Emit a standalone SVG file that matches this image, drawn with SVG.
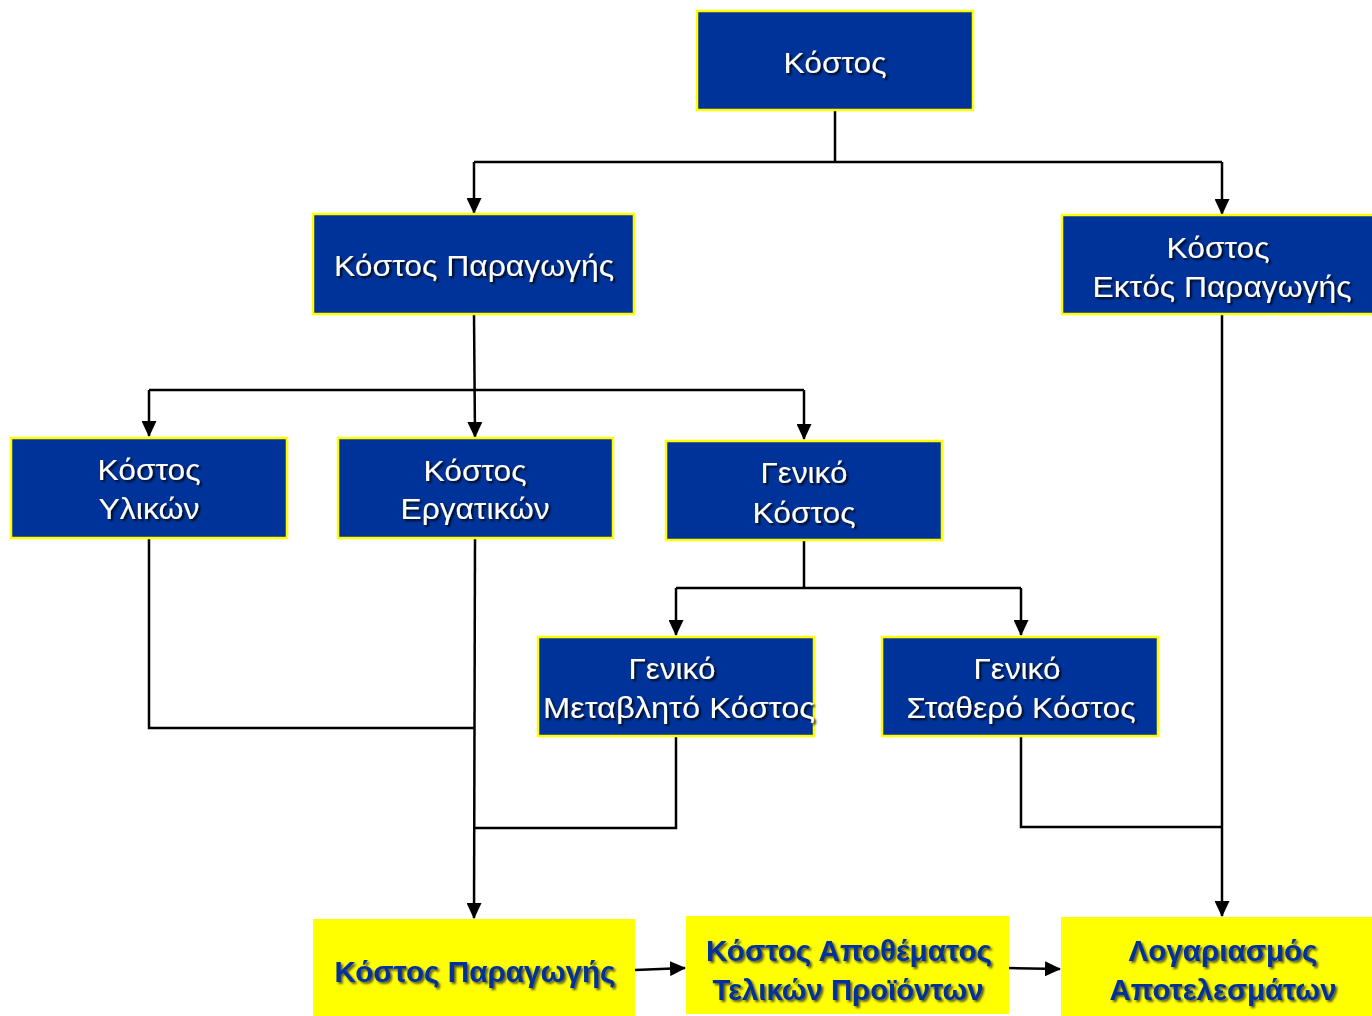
<svg xmlns="http://www.w3.org/2000/svg" width="1372" height="1016" viewBox="0 0 1372 1016">
<style>
.bn{fill:#003399;stroke:#FFFF00;stroke-width:2.5}
.yn{fill:#FFFF00;stroke:none}
.wt{font-family:"Liberation Sans",Arial,sans-serif;font-size:30px;fill:#FFFFFF;text-anchor:middle;filter:url(#sh)}
.yt{font-family:"Liberation Sans",Arial,sans-serif;font-size:30px;font-weight:bold;fill:#003399;text-anchor:middle;filter:url(#sh2)}
.c{fill:none;stroke:#000;stroke-width:2.5}
.a{fill:none;stroke:#000;stroke-width:2.5;marker-end:url(#ar)}
</style>
<defs>
<filter id="sh" x="-10%" y="-30%" width="120%" height="160%">
<feDropShadow dx="2" dy="2" stdDeviation="0.8" flood-color="#000" flood-opacity="0.85"/>
</filter>
<filter id="sh2" x="-10%" y="-30%" width="120%" height="160%">
<feDropShadow dx="2" dy="2" stdDeviation="0.8" flood-color="#333" flood-opacity="0.8"/>
</filter>
<marker id="ar" markerWidth="16" markerHeight="15" refX="15" refY="7.5" orient="auto" markerUnits="userSpaceOnUse">
<path d="M0,0 L16,7.5 L0,15 Z" fill="#000"/>
</marker>
</defs>
<rect width="1372" height="1016" fill="#FFFFFF"/>
<g id="connectors">
<path class="c" d="M835,110 V162 M474,162 H1222"/>
<path class="a" d="M474,162 V213"/>
<path class="a" d="M1222,162 V214"/>
<path class="a" d="M474,314 L475,437"/>
<path class="c" d="M149,390 H804"/>
<path class="a" d="M149,390 V436"/>
<path class="a" d="M804,390 V439"/>
<path class="c" d="M149,538 V728 H474"/>
<path class="a" d="M475,538 L474,918"/>
<path class="c" d="M804,540 V588 M676,588 H1021"/>
<path class="a" d="M676,588 V635"/>
<path class="a" d="M1021,588 V635"/>
<path class="c" d="M676,736 V828 H474"/>
<path class="c" d="M1021,736 V827 H1222"/>
<path class="a" d="M1222,314 V916"/>
<path class="a" d="M635,970 L685,968"/>
<path class="a" d="M1009,968 L1060,969"/>
</g>
<g id="n-kostos">
<rect class="bn" x="697" y="11" width="276" height="99"/>
<text class="wt" x="835" y="73" textLength="103" lengthAdjust="spacingAndGlyphs">Κόστος</text>
</g>
<g id="n-paragogis">
<rect class="bn" x="313" y="214" width="321" height="100"/>
<text class="wt" x="474" y="276" textLength="280" lengthAdjust="spacingAndGlyphs">Κόστος Παραγωγής</text>
</g>
<g id="n-ektos">
<rect class="bn" x="1062" y="215" width="320" height="99"/>
<text class="wt" x="1218" y="258" textLength="103" lengthAdjust="spacingAndGlyphs">Κόστος</text>
<text class="wt" x="1222" y="297" textLength="259" lengthAdjust="spacingAndGlyphs">Εκτός Παραγωγής</text>
</g>
<g id="n-ylikon">
<rect class="bn" x="11" y="438" width="276" height="100"/>
<text class="wt" x="149" y="480" textLength="103" lengthAdjust="spacingAndGlyphs">Κόστος</text>
<text class="wt" x="149" y="519" textLength="101" lengthAdjust="spacingAndGlyphs">Υλικών</text>
</g>
<g id="n-ergatikon">
<rect class="bn" x="338" y="438" width="275" height="100"/>
<text class="wt" x="475" y="481" textLength="103" lengthAdjust="spacingAndGlyphs">Κόστος</text>
<text class="wt" x="475" y="519" textLength="149" lengthAdjust="spacingAndGlyphs">Εργατικών</text>
</g>
<g id="n-geniko">
<rect class="bn" x="666" y="441" width="276" height="99"/>
<text class="wt" x="804" y="483" textLength="87" lengthAdjust="spacingAndGlyphs">Γενικό</text>
<text class="wt" x="804" y="523" textLength="103" lengthAdjust="spacingAndGlyphs">Κόστος</text>
</g>
<g id="n-metavlito">
<rect class="bn" x="538" y="637" width="276" height="99"/>
<text class="wt" x="672" y="679" textLength="87" lengthAdjust="spacingAndGlyphs">Γενικό</text>
<text class="wt" x="679" y="718" textLength="272" lengthAdjust="spacingAndGlyphs">Μεταβλητό Κόστος</text>
</g>
<g id="n-statero">
<rect class="bn" x="882" y="637" width="276" height="99"/>
<text class="wt" x="1017" y="679" textLength="87" lengthAdjust="spacingAndGlyphs">Γενικό</text>
<text class="wt" x="1021" y="718" textLength="229" lengthAdjust="spacingAndGlyphs">Σταθερό Κόστος</text>
</g>
<g id="n-y-paragogis">
<rect class="yn" x="313" y="919" width="322" height="97"/>
<text class="yt" x="475" y="982" textLength="281" lengthAdjust="spacingAndGlyphs">Κόστος Παραγωγής</text>
</g>
<g id="n-y-apothematos">
<rect class="yn" x="686" y="916" width="323" height="98"/>
<text class="yt" x="849" y="961" textLength="286" lengthAdjust="spacingAndGlyphs">Κόστος Αποθέματος</text>
<text class="yt" x="848" y="1000" textLength="271" lengthAdjust="spacingAndGlyphs">Τελικών Προϊόντων</text>
</g>
<g id="n-y-logariasmos">
<rect class="yn" x="1061" y="917" width="311" height="99"/>
<text class="yt" x="1223" y="961" textLength="189" lengthAdjust="spacingAndGlyphs">Λογαριασμός</text>
<text class="yt" x="1223" y="1000" textLength="227" lengthAdjust="spacingAndGlyphs">Αποτελεσμάτων</text>
</g>
</svg>
